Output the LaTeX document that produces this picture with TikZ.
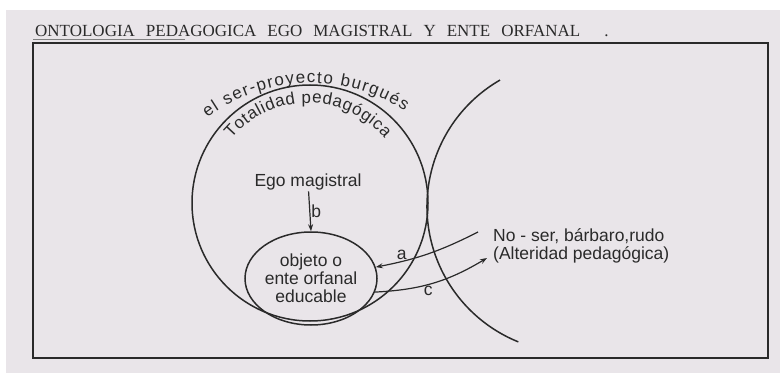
\documentclass[tikz,border=0pt]{standalone}
\usepackage{fontspec}
\setmainfont{Liberation Serif}
\setsansfont{Liberation Sans}
\usetikzlibrary{arrows.meta,shapes.geometric,decorations.text}

\definecolor{papel}{RGB}{233,229,233}
\definecolor{tinta}{RGB}{42,42,42}

\begin{document}
\begin{tikzpicture}[x=1pt,y=1pt,
  trazo/.style={tinta, line width=1.5pt},
  flecha/.style={tinta, line width=1.2pt, -{Stealth[length=7pt,width=5pt]}},
  rotulo/.style={font=\sffamily\fontsize{17.5}{18}\selectfont, text=tinta, inner sep=1pt},
  titulo/.style={font=\rmfamily\fontsize{17}{19}\selectfont, text=tinta, inner sep=0pt}]
\useasboundingbox (0,0) rectangle (780,373);
\fill[white] (0,0) rectangle (780,373);
\fill[papel] (6,0) rectangle (780,363);

\node[titulo, anchor=base west] (titulo) at (35,336) {ONTOLOGIA\hspace{11pt}PEDAGOGICA\hspace{11pt}EGO\hspace{11pt}MAGISTRAL\hspace{11pt}Y\hspace{11pt}ENTE\hspace{11pt}ORFANAL\hspace{24pt}.};
\draw[tinta!60, line width=.6pt] (33,333.5) -- (185,333.5);
\draw[tinta, line width=1.4pt] (33,330) rectangle (768,15);

\node[circle, trazo, draw, minimum size=236pt] (totalidad) at (310,170) {};
\draw[trazo] (573,166.5) ++(120:146) arc[start angle=120, end angle=248, radius=146];

\path[decorate, decoration={text along path, text align={fit to path}, text color=tinta,
  text={|\sffamily\fontsize{17}{18}\selectfont|el ser-proyecto burgués}}]
  (311,118) ++(127:172) arc[start angle=127, end angle=57, radius=172];
\path[decorate, decoration={text along path, text align={fit to path}, text color=tinta,
  text={|\sffamily\fontsize{17}{18}\selectfont|Totalidad pedagógica}}]
  (308,170) ++(140:100) arc[start angle=140, end angle=40, radius=100];

\node[rotulo] (ego) at (308,191) {Ego magistral};
\node[ellipse, trazo, draw, rotulo, align=center, minimum width=132pt, minimum height=93pt, inner sep=0pt] (ente) at (311,94.5) {objeto o\\ente orfanal\\educable};
\node[rotulo, align=left, anchor=west] (noser) at (492,127.5) {No - ser, bárbaro,rudo\\(Alteridad pedagógica)};

\coordinate (a0) at (478,141);
\coordinate (c1) at (487,115);

\draw[flecha] (ego) -- (ente.north) node[rotulo, midway, right] {b};
\draw[flecha] (a0) to[bend left=8] node[rotulo, pos=.77, above] {a} (ente.10);
\draw[flecha] (ente.-12) to[bend right=14] node[rotulo, pos=.45, below] {c} (c1);
\end{tikzpicture}
\end{document}
